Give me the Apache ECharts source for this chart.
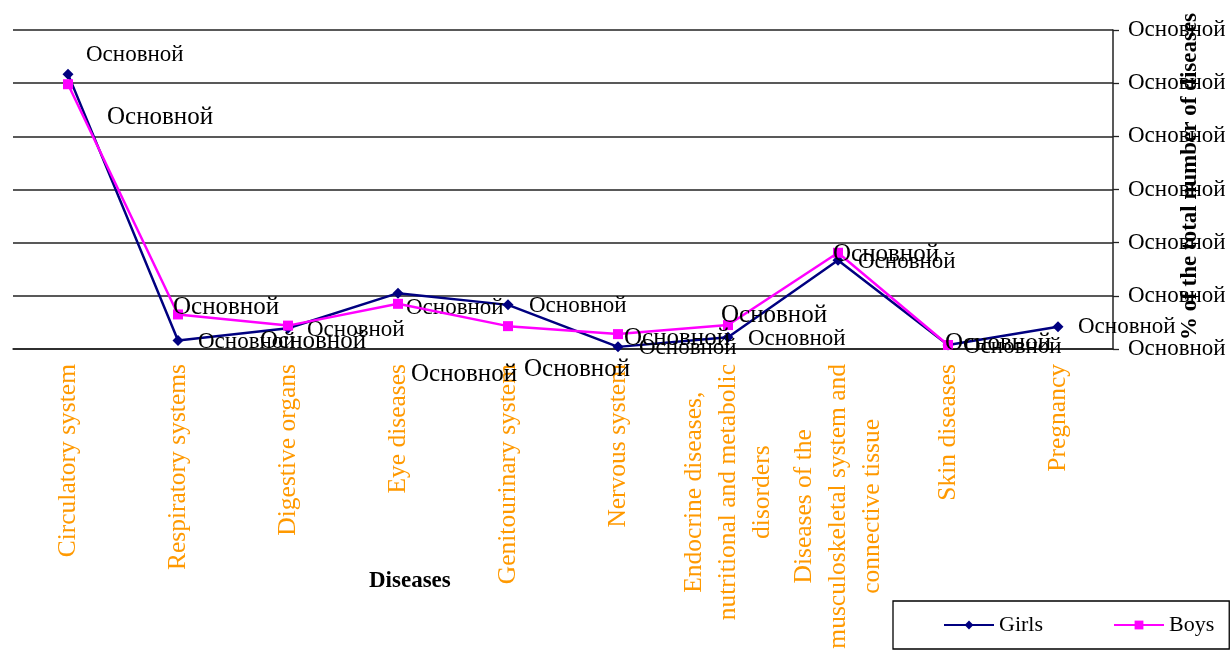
<!DOCTYPE html>
<html>
<head>
<meta charset="utf-8">
<script src="https://cdn.jsdelivr.net/npm/echarts@6/dist/echarts.min.js"></script>
<style>
html,body{margin:0;padding:0;background:#fff;overflow:hidden;}
#chart{width:1232px;height:653px;}
</style>
</head>
<body>
<div id="chart"></div>
<script>
const categories = [
  'Circulatory system',
  'Respiratory systems',
  'Digestive organs',
  'Eye diseases',
  'Genitourinary system',
  'Nervous system',
  'Endocrine diseases,\nnutritional and metabolic\ndisorders',
  'Diseases of the\nmusculoskeletal system and\nconnective tissue',
  'Skin diseases',
  'Pregnancy'
];
const girls = [51.7, 1.6, 3.9, 10.5, 8.3, 0.4, 2.2, 16.7, 0.75, 4.2];
const boys  = [49.8, 6.5, 4.4, 8.5, 4.3, 2.8, 4.5, 18.1, 0.75, null];
const pointLabel = 'Основной';
const yTickLabel = 'Основной';
const seriesNames = ['Girls', 'Boys'];
const xAxisTitle = 'Diseases';
const yAxisTitle = '% of the total number of diseases';

// label placement (text left edge / vertical centre relative to the point)
const girlsLabelShift = [[18,-19],[20,1],[19,2],[8,15],[21,1],[21,1],[20,2],[20,2],[16,2],[20,0]];
const boysLabelShift  = [[39,33],[-5,-7],[-28,16],[13,71],[16,43],[6,4],[-7,-10],[-5,2],[-3,-2],[0,0]];

const serif = '"Liberation Serif","Times New Roman",serif';

function buildData(vals, shifts) {
  return vals.map((v, i) => ({
    value: v,
    label: { offset: shifts[i] }
  }));
}

const chart = echarts.init(document.getElementById('chart'), null, {renderer: 'canvas'});
chart.setOption({
  backgroundColor: '#fff',
  animation: false,
  grid: { left: 13, right: 119, top: 30, bottom: 304, containLabel: false, outerBoundsMode: 'none' },
  title: {
    text: xAxisTitle, left: 364, top: 565,
    textStyle: { fontFamily: serif, fontWeight: 'bold', fontSize: 23, color: '#000' }
  },
  legend: {
    left: 893, top: 601,
    padding: [13, 15, 13, 50],
    itemGap: 70,
    itemWidth: 50, itemHeight: 11,
    borderColor: '#000', borderWidth: 1.3,
    textStyle: { fontFamily: serif, fontSize: 22, color: '#000' },
    data: seriesNames
  },
  xAxis: [{
    type: 'category',
    data: categories,
    boundaryGap: true,
    axisLine: { lineStyle: { color: '#222', width: 1.5 } },
    axisTick: { length: 6, lineStyle: { color: '#222', width: 1.3 } },
    axisLabel: {
      interval: 0, rotate: 90, margin: 15,
      formatter: v => v.split('\n').map(l => '{c|' + l + '}').join('\n'),
      rich: { c: { align: 'center', fontFamily: serif, fontSize: 25.5, color: '#FF9900', lineHeight: 34 } }
    },
    splitLine: { show: false }
  }, {
    type: 'category',
    data: categories,
    position: 'bottom',
    axisLine: { show: false },
    axisTick: { alignWithLabel: true, length: 6, lineStyle: { color: '#222', width: 1.3 } },
    axisLabel: { show: false },
    splitLine: { show: false }
  }],
  yAxis: {
    type: 'value',
    position: 'right',
    min: 0, max: 60, interval: 10,
    name: yAxisTitle,
    nameLocation: 'middle',
    nameRotate: 90,
    nameGap: 66,
    nameMoveOverlap: false,
    nameTextStyle: { fontFamily: serif, fontWeight: 'bold', fontSize: 23, color: '#000', padding: [0, 0, 0, 26] },
    axisLine: { show: true, lineStyle: { color: '#222', width: 1.5 } },
    axisTick: { show: true, length: 6, lineStyle: { color: '#222', width: 1.3 } },
    axisLabel: {
      margin: 15,
      formatter: () => yTickLabel,
      fontFamily: serif, fontSize: 23, color: '#000'
    },
    splitLine: { show: true, lineStyle: { color: '#222', width: 1.5 } }
  },
  series: [{
    name: seriesNames[0],
    type: 'line',
    data: buildData(girls, girlsLabelShift),
    symbol: 'diamond', symbolSize: 11,
    itemStyle: { color: '#000080' },
    lineStyle: { color: '#000080', width: 2.5 },
    label: {
      show: true, position: 'inside', align: 'left', verticalAlign: 'middle',
      formatter: () => pointLabel,
      fontFamily: serif, fontSize: 23, color: '#000', textBorderWidth: 0
    },
    z: 3
  }, {
    name: seriesNames[1],
    type: 'line',
    data: buildData(boys, boysLabelShift),
    symbol: 'rect', symbolSize: 10,
    itemStyle: { color: '#FF00FF' },
    lineStyle: { color: '#FF00FF', width: 2.5 },
    label: {
      show: true, position: 'inside', align: 'left', verticalAlign: 'middle',
      formatter: () => pointLabel,
      fontFamily: serif, fontSize: 25, color: '#000', textBorderWidth: 0
    },
    z: 4
  }]
});
</script>
</body>
</html>
